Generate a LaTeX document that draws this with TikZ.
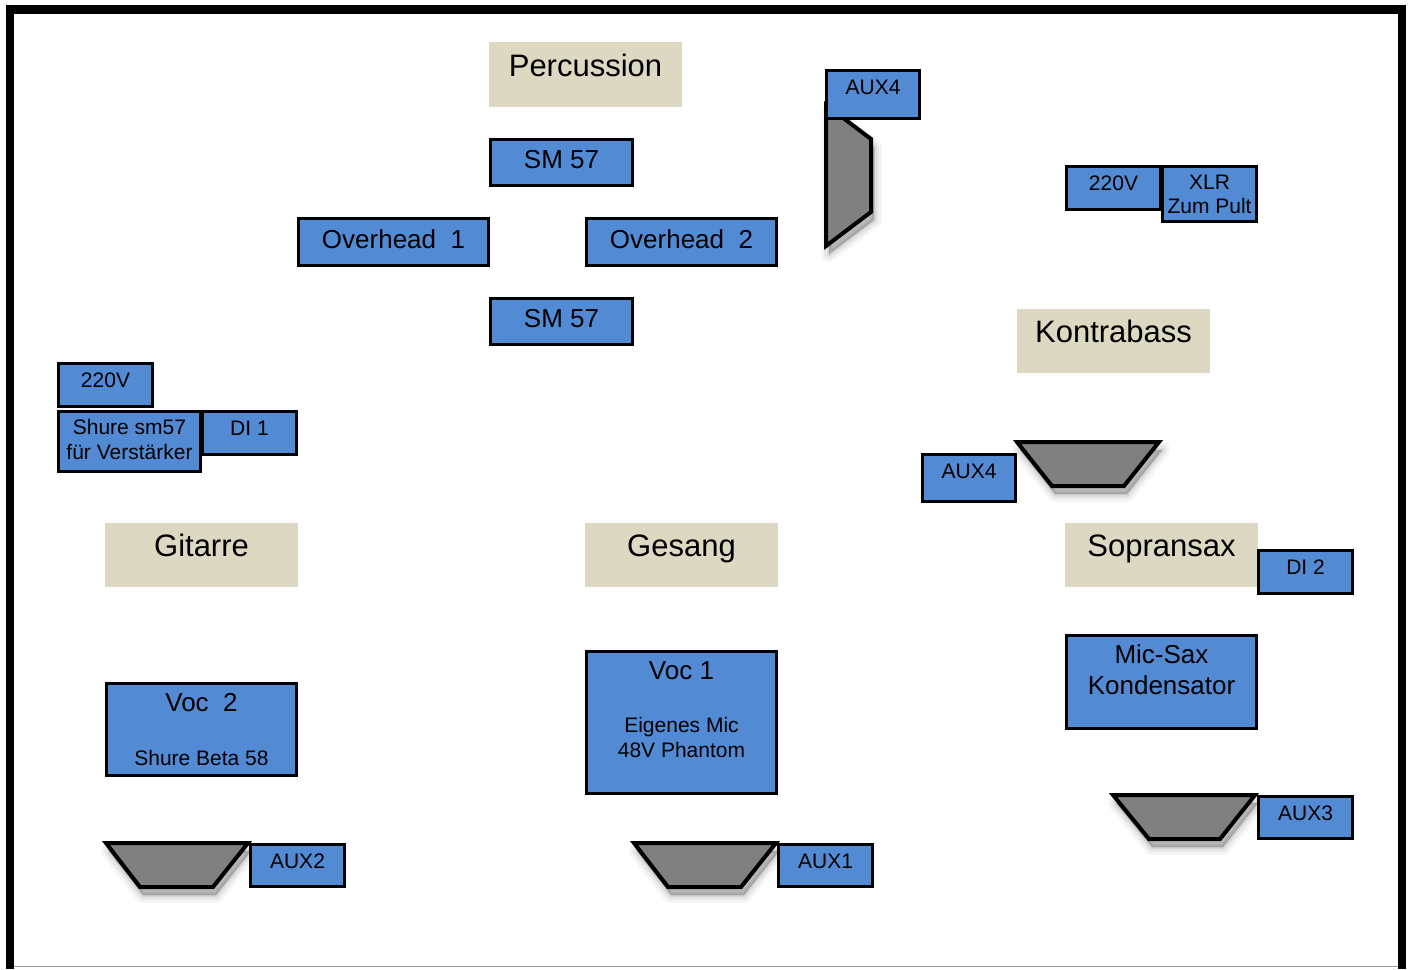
\documentclass[tikz,border=0pt]{standalone}
\usepackage{fontspec}
\setmainfont{Liberation Sans}

\definecolor{micblue}{RGB}{83,138,212}
\definecolor{zonebeige}{RGB}{221,216,194}
\definecolor{wedgegray}{RGB}{128,128,128}

\begin{document}
\begin{tikzpicture}[x=1pt, y=-1pt,
    mic/.style={draw=black, fill=micblue, line width=3pt},
    zone/.style={fill=zonebeige},
    softshade/.style={draw=black, fill=black, opacity=#1, line join=round,
        transform canvas={xshift=3pt, yshift=-8pt}},
    wedge/.style={draw=black, fill=wedgegray, line width=4pt, line join=miter,
        preaction={softshade=0.04, line width=16pt},
        preaction={softshade=0.05, line width=10pt},
        preaction={softshade=0.07, line width=5pt},
        preaction={softshade=0.08, line width=1pt}},
    zonetitle/.style={anchor=base, inner sep=0pt, font=\fontsize{31}{37}\selectfont},
    miclabel/.style={anchor=base, inner sep=0pt, font=\fontsize{26}{31}\selectfont},
    auxlabel/.style={anchor=base, inner sep=0pt, font=\fontsize{21}{25}\selectfont}
]
    \useasboundingbox (0,0) rectangle (1410,969);

    % Frame
    \draw[line width=8.5pt] (10,969) -- (10,9.5) -- (1402,9.5) -- (1402,969);
    \draw[black!40, line width=1pt] (14,966) -- (1398,966);

    % Percussion
    \fill[zone] (489,42) rectangle (682,107);
    \node[zonetitle] (perc) at (585.5,76) {Percussion};
    \draw[mic] (490.5,139.5) rectangle (632.5,185.5);
    \node[miclabel] (sm57a) at (561.5,168) {SM 57};
    \draw[mic] (298.5,218.5) rectangle (488.5,265.5);
    \node[miclabel] (oh1) at (393.5,248) {Overhead\ \ 1};
    \draw[mic] (586.5,218.5) rectangle (776.5,265.5);
    \node[miclabel] (oh2) at (681.5,248) {Overhead\ \ 2};
    \draw[mic] (490.5,298.5) rectangle (632.5,344.5);
    \node[miclabel] (sm57b) at (561.5,327) {SM 57};

    % Monitor AUX4 (Percussion)
    \draw[wedge] (826,105) -- (871,139) -- (871,212) -- (826,246) -- cycle;
    \draw[mic] (826.5,70.5) rectangle (919.5,118.5);
    \node[auxlabel] (auxfourtop) at (873,94) {AUX4};

    % Kontrabass
    \draw[mic] (1066.5,166.5) rectangle (1160.5,209.5);
    \node[auxlabel] (powerbass) at (1113.5,190) {220V};
    \draw[mic] (1162.5,166.5) rectangle (1256.5,221.5);
    \node[auxlabel, anchor=center, align=center, font=\fontsize{21}{24}\selectfont] (xlr) at (1209.5,194.5) {XLR\\Zum Pult};
    \fill[zone] (1017,309) rectangle (1210,373);
    \node[zonetitle] (bass) at (1113.5,342) {Kontrabass};
    \draw[wedge] (1017,442) -- (1159,442) -- (1124,486) -- (1052,486) -- cycle;
    \draw[mic] (922.5,454.5) rectangle (1015.5,501.5);
    \node[auxlabel] (auxfourmid) at (969,478) {AUX4};

    % Sopransax
    \fill[zone] (1065,523) rectangle (1258,587);
    \node[zonetitle] (sax) at (1161.5,556) {Sopransax};
    \draw[mic] (1258.5,550.5) rectangle (1352.5,593.5);
    \node[auxlabel] (ditwo) at (1305.5,574) {DI 2};
    \draw[mic] (1066.5,635.5) rectangle (1256.5,728.5);
    \node[miclabel, anchor=center, align=center] (micsax) at (1161.5,670) {Mic-Sax\\Kondensator};
    \draw[wedge] (1113,795) -- (1255,795) -- (1220,839) -- (1149,839) -- cycle;
    \draw[mic] (1258.5,796.5) rectangle (1352.5,838.5);
    \node[auxlabel] (auxthree) at (1305.5,820) {AUX3};

    % Gesang
    \fill[zone] (585,523) rectangle (778,587);
    \node[zonetitle] (voice) at (681.5,556) {Gesang};
    \draw[mic] (586.5,651.5) rectangle (776.5,793.5);
    \node[miclabel] (vocone) at (681.5,679) {Voc 1};
    \node[auxlabel, anchor=center, align=center] (vocinfo) at (681.5,737) {Eigenes Mic\\48V Phantom};
    \draw[wedge] (634,843) -- (776,843) -- (741,887) -- (668,887) -- cycle;
    \draw[mic] (778.5,844.5) rectangle (872.5,886.5);
    \node[auxlabel] (auxone) at (825.5,868) {AUX1};

    % Gitarre
    \draw[mic] (58.5,363.5) rectangle (152.5,406.5);
    \node[auxlabel] (powergit) at (105.5,387) {220V};
    \draw[mic] (202.5,411.5) rectangle (296.5,454.5);
    \node[auxlabel] (dione) at (249.5,435) {DI 1};
    \draw[mic] (58.5,411.5) rectangle (200.5,471.5);
    \node[auxlabel, anchor=center, align=center] (ampmic) at (129.5,439.5) {Shure sm57\\für Verstärker};
    \fill[zone] (105,523) rectangle (298,587);
    \node[zonetitle] (git) at (201.5,556) {Gitarre};
    \draw[mic] (106.5,683.5) rectangle (296.5,775.5);
    \node[miclabel] (voctwo) at (201.5,711) {Voc\ \ 2};
    \node[auxlabel] (beta) at (201.5,765) {Shure Beta 58};
    \draw[wedge] (106,843) -- (248,843) -- (213,887) -- (140,887) -- cycle;
    \draw[mic] (250.5,844.5) rectangle (344.5,886.5);
    \node[auxlabel] (auxtwo) at (297.5,868) {AUX2};
\end{tikzpicture}
\end{document}
